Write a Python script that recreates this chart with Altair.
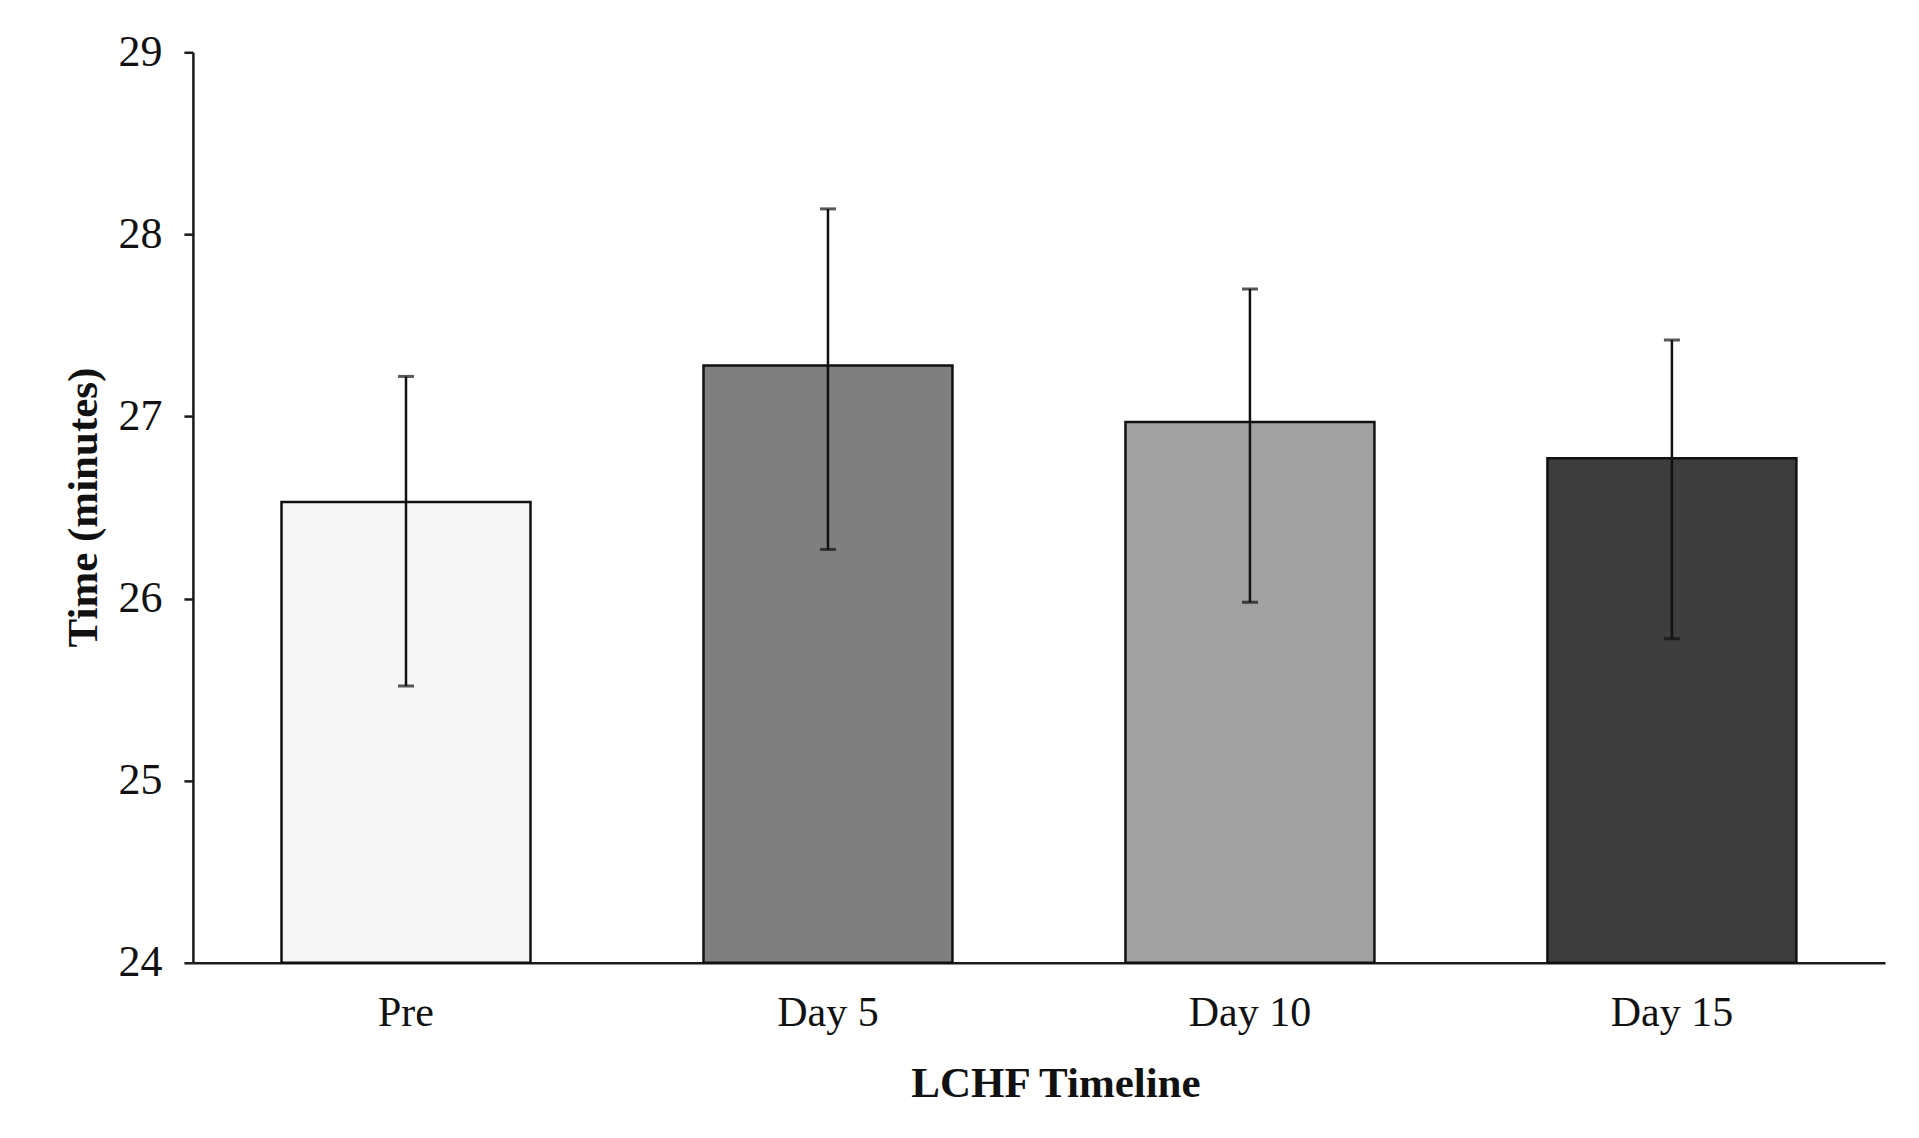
import altair as alt
import pandas as pd

categories = ["Pre", "Day 5", "Day 10", "Day 15"]
means = [26.53, 27.28, 26.97, 26.77]
lowers = [25.52, 26.27, 25.98, 25.78]
uppers = [27.22, 28.14, 27.70, 27.42]
colors = ["#f6f6f6", "#7f7f7f", "#a1a1a1", "#3d3d3d"]

df = pd.DataFrame({"cat": categories, "mean": means, "lo": lowers, "hi": uppers})

FONT = "Liberation Serif"
W, H = 1693, 911

x_scale = alt.Scale(paddingInner=0.41, paddingOuter=0.21)

x = alt.X(
    "cat:N",
    sort=categories,
    scale=x_scale,
    axis=alt.Axis(
        title="LCHF Timeline",
        labelAngle=0,
        ticks=False,
        labelPadding=30,
        labelFontSize=42,
        labelFont=FONT,
        labelColor="#111111",
        titleFont=FONT,
        titleFontSize=43,
        titleFontWeight="bold",
        titleColor="#111111",
        titleX=863,
        titleY=121,
        titleBaseline="middle",
        titleAlign="center",
        domainColor="#1a1a1a",
        domainWidth=2.5,
    ),
)

y_scale = alt.Scale(domain=[24, 29], nice=False, zero=False)

bars = alt.Chart(df).mark_bar(stroke="#111111", strokeWidth=2.5).encode(
    x=x,
    y=alt.Y(
        "mean:Q",
        scale=y_scale,
        axis=alt.Axis(
            title="Time (minutes)",
            values=[24, 25, 26, 27, 28, 29],
            format="d",
            grid=False,
            tickSize=9,
            tickWidth=2.5,
            tickColor="#1a1a1a",
            labelPadding=22,
            labelFontSize=44,
            labelFont=FONT,
            labelColor="#111111",
            titleFont=FONT,
            titleFontSize=43,
            titleFontWeight="bold",
            titleColor="#111111",
            titleAngle=270,
            titleX=-109,
            titleY=455,
            titleBaseline="middle",
            titleAlign="center",
            domainColor="#1a1a1a",
            domainWidth=2.5,
        ),
    ),
    y2=alt.Y2(datum=24),
    color=alt.Color("cat:N", sort=categories,
                    scale=alt.Scale(domain=categories, range=colors), legend=None),
)

rules = alt.Chart(df).mark_rule(color="#111111", strokeWidth=2.5).encode(
    x=alt.X("cat:N", sort=categories),
    y=alt.Y("lo:Q", scale=y_scale),
    y2="hi:Q",
)

caps_hi = alt.Chart(df).mark_tick(color="#111111", size=16, thickness=3, orient="horizontal").encode(
    x=alt.X("cat:N", sort=categories),
    y=alt.Y("hi:Q", scale=y_scale),
)
caps_lo = alt.Chart(df).mark_tick(color="#111111", size=16, thickness=3, orient="horizontal").encode(
    x=alt.X("cat:N", sort=categories),
    y=alt.Y("lo:Q", scale=y_scale),
)

chart = alt.layer(bars, rules, caps_hi, caps_lo).properties(
    width=W,
    height=H,
    autosize=alt.AutoSizeParams(type="none"),
    padding={"left": 185, "top": 44, "right": 26, "bottom": 167},
    background="white",
).configure_view(stroke=None)

chart.save("out.html", embed_options={"renderer": "svg", "actions": False})
